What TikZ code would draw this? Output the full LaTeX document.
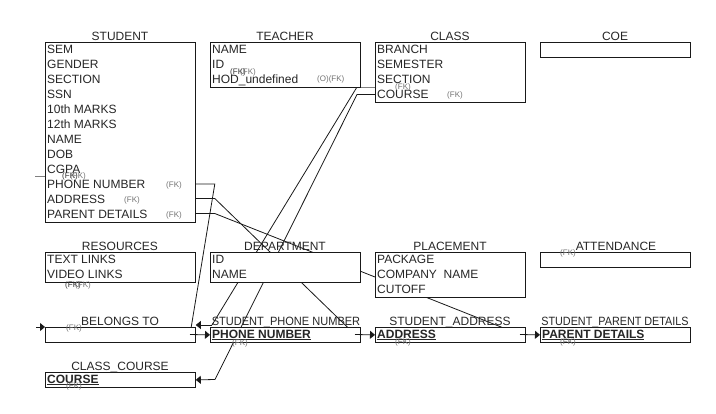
\documentclass[tikz,border=0pt]{standalone}
\usepackage{fontspec}
\usepackage{graphicx}
\setmainfont{Liberation Sans}
\usetikzlibrary{arrows.meta}
\pgfdeclarelayer{background}
\pgfsetlayers{background,main}
\begin{document}
\begin{tikzpicture}[x=1pt,y=-1pt,
  ebox/.style={draw=black!90, line width=0.8pt, fill=white, inner sep=0pt, anchor=north west, minimum width=150pt},
  etitle/.style={anchor=base, inner sep=0pt, font=\fontsize{12}{14}\selectfont, text=black!85},
  erow/.style={anchor=base west, inner sep=0pt, font=\fontsize{12}{14}\selectfont, text=black!85},
  ekey/.style={anchor=base west, inner sep=0pt, font=\fontsize{12}{14}\selectfont\bfseries, text=black!85},
  fk/.style={anchor=base west, inner sep=0pt, font=\fontsize{8}{9}\selectfont, text=black!55},
  fkd/.style={anchor=base west, inner sep=0pt, font=\fontsize{8}{9}\selectfont, text=black!80},
  conn/.style={draw=black!90, line width=0.8pt},
  gconn/.style={draw=black!50, line width=0.8pt},
  tip/.style={-{Triangle[length=5pt,width=8pt]}},
]
\useasboundingbox (0,0) rectangle (716,413);

% ---------- boxes ----------
\node[ebox, minimum height=180pt] (student) at (45,42) {};
\node[ebox, minimum height=45pt] (teacher) at (210,42) {};
\node[ebox, minimum height=60pt] (class) at (375,42) {};
\node[ebox, minimum height=15pt] (coe) at (540,42) {};
\node[ebox, minimum height=30pt] (resources) at (45,252) {};
\node[ebox, minimum height=30pt] (dept) at (210,252) {};
\node[ebox, minimum height=45pt] (placement) at (375,252) {};
\node[ebox, minimum height=15pt] (attendance) at (540,252) {};
\node[ebox, minimum height=15pt] (belongs) at (45,327) {};
\node[ebox, minimum height=15pt] (sphone) at (210,327) {};
\node[ebox, minimum height=15pt] (saddr) at (375,327) {};
\node[ebox, minimum height=15pt] (spar) at (540,327) {};
\node[ebox, minimum height=15pt] (ccourse) at (45,372) {};

% ---------- titles ----------
\node[etitle] (t-student) at (120,40) {STUDENT};
\node[etitle] (t-teacher) at (285,40) {TEACHER};
\node[etitle] (t-class) at (450,40) {CLASS};
\node[etitle] (t-coe) at (615,40) {COE};
\node[etitle] (t-resources) at (120,250) {RESOURCES};
\node[etitle] (t-dept) at (285,250) {DEPARTMENT};
\node[etitle] (t-placement) at (450,250) {PLACEMENT};
\node[etitle] (t-attendance) at (616,250) {ATTENDANCE};
\node[etitle] (t-belongs) at (120,325) {BELONGS TO};
\node[etitle] (t-sphone) at (286,325) {\scalebox{0.92}[1]{STUDENT\_PHONE NUMBER}};
\node[etitle] (t-saddr) at (450,325) {STUDENT\_ADDRESS};
\node[etitle] (t-spar) at (615,325) {\scalebox{0.9}[1]{STUDENT\_PARENT DETAILS}};
\node[etitle] (t-ccourse) at (120,370) {CLASS\_COURSE};

% ---------- rows ----------
\foreach \t [count=\i] in {SEM,GENDER,SECTION,SSN,10th MARKS,12th MARKS,NAME,DOB,CGPA,PHONE NUMBER,ADDRESS,PARENT DETAILS}
  \node[erow] (s\i) at (47,{38+15*\i}) {\t};
\foreach \t [count=\i] in {NAME,ID,HOD\_undefined}
  \node[erow] (te\i) at (212,{38+15*\i}) {\t};
\foreach \t [count=\i] in {BRANCH,SEMESTER,SECTION,COURSE}
  \node[erow] (c\i) at (377,{38+15*\i}) {\t};
\node[erow] (r1) at (47,263) {TEXT LINKS};
\node[erow] (r2) at (47,278) {VIDEO LINKS};
\node[erow] (d1) at (212,263) {ID};
\node[erow] (d2) at (212,278) {NAME};
\node[erow] (p1) at (377,263) {PACKAGE};
\node[erow] (p2) at (377,278) {COMPANY\ \ NAME};
\node[erow] (p3) at (377,293) {CUTOFF};
\node[ekey] (k-phone) at (212,338) {\underline{PHONE NUMBER}};
\node[ekey] (k-addr) at (377,338) {\underline{ADDRESS}};
\node[ekey] (k-par) at (542,338) {\underline{PARENT DETAILS}};
\node[ekey] (k-course) at (47,383) {\underline{COURSE}};

% ---------- (FK) marks ----------
\node[fkd] (f1) at (62,178) {(FK)};
\node[fk] (f2) at (70,178) {(FK)};
\node[fk] (f3) at (166,187) {(FK)};
\node[fk] (f4) at (124,202) {(FK)};
\node[fk] (f5) at (166,217) {(FK)};
\node[fkd] (f6) at (230,74) {(FK)};
\node[fk] (f7) at (240,74) {(FK)};
\node[fk] (f8) at (317,81) {(O)(FK)};
\node[fk] (f9) at (395,89) {(FK)};
\node[fk] (f10) at (447,97) {(FK)};
\node[fkd] (f11) at (65,287) {(FK)};
\node[fk] (f12) at (75,287) {(FK)};
\node[fk] (f13) at (560,255) {(FK)};
\node[fk] (f14) at (66,330) {(FK)};
\node[fk] (f15) at (232,345) {(FK)};
\node[fk] (f16) at (395,344) {(FK)};
\node[fk] (f17) at (560,344) {(FK)};
\node[fk] (f18) at (66,388) {(FK)};

% ---------- connectors (behind boxes) ----------
\coordinate (eC) at (190,334.5);
\coordinate (eD) at (355,334.5);
\coordinate (eE) at (520,334.5);
\coordinate (aA) at (357,87);
\coordinate (eA) at (212,325);
\coordinate (aB) at (357,94.5);
\coordinate (eB) at (215,379.5);
\begin{pgfonlayer}{background}
  \draw[conn] (student.east |- 0,184) -- ++(19,0) -- (eC);
  \draw[conn] (student.east |- 0,198.5) -- ++(19,0) -- (eD);
  \draw[conn] (student.east |- 0,213.5) -- ++(19,0) -- (eE);
  \draw[gconn] (class.west |- aA) -- (aA);
  \draw[conn] (aA) -- (eA);
  \draw[conn] (class.west |- aB) -- (aB) -- (eB);
\end{pgfonlayer}

% ---------- arrow stubs (in front) ----------
\draw[conn,tip] (eC) -- (sphone.west);
\draw[conn,tip] (eD) -- (saddr.west);
\draw[conn,tip] (eE) -- (spar.west);
\draw[conn,tip] (eA) -- ([yshift=2pt]belongs.north east);
\draw[conn,tip] (eB) -- (ccourse.east);
\coordinate (lB) at (36,327);
\draw[conn,tip] (lB) -- (belongs.north west);
\coordinate (lS) at (35,176);
\draw[gconn] (lS) -- (student.west |- lS);
\end{tikzpicture}
\end{document}
